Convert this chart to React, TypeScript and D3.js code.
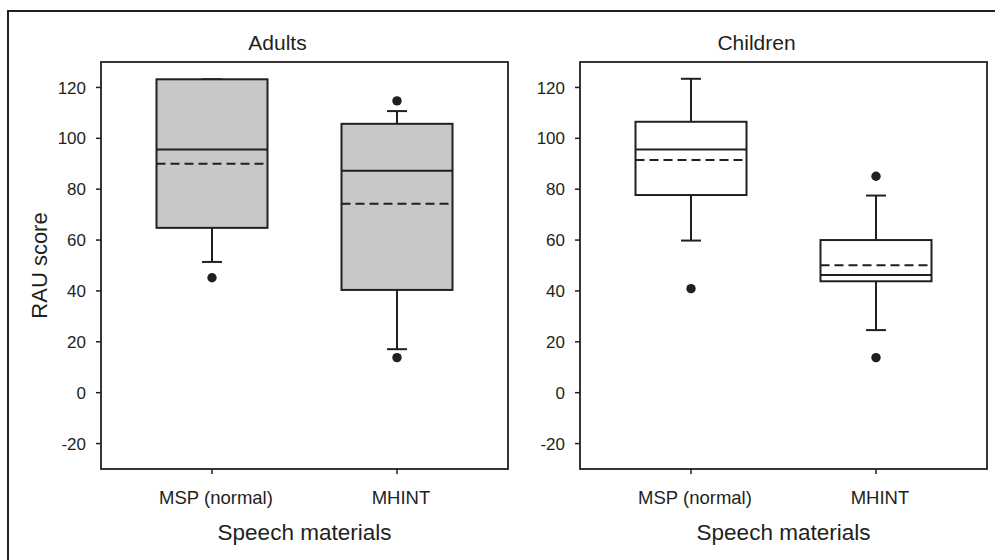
import React from "react";
import * as d3 from "d3";

// Panels and categories
const panelTitles = ["Adults", "Children"];
const categories = ["MSP (normal)", "MHINT"];
const yTicks = [-20, 0, 20, 40, 60, 80, 100, 120];

// Adults (RAU score) per category
const adultsWhiskerLow = [51.4, 17.1];
const adultsQ1 = [64.8, 40.4];
const adultsMedian = [95.6, 87.2];
const adultsMean = [90.0, 74.3];
const adultsQ3 = [123.2, 105.7];
const adultsWhiskerHigh = [123.2, 110.7];
const adultsOutliers = [[45.2], [13.8, 114.7]];

// Children (RAU score) per category
const childrenWhiskerLow = [59.8, 24.6];
const childrenQ1 = [77.7, 43.8];
const childrenMedian = [95.6, 46.3];
const childrenMean = [91.5, 50.1];
const childrenQ3 = [106.5, 60.0];
const childrenWhiskerHigh = [123.4, 77.5];
const childrenOutliers = [[40.9], [13.8, 85.1]];

type Box = {
  cat: string;
  lo: number;
  q1: number;
  med: number;
  mean: number;
  q3: number;
  hi: number;
  out: number[];
};

const build = (
  lo: number[], q1: number[], med: number[], mean: number[],
  q3: number[], hi: number[], out: number[][]
): Box[] =>
  categories.map((cat, i) => ({
    cat, lo: lo[i], q1: q1[i], med: med[i], mean: mean[i], q3: q3[i], hi: hi[i], out: out[i],
  }));

const panelData: Box[][] = [
  build(adultsWhiskerLow, adultsQ1, adultsMedian, adultsMean, adultsQ3, adultsWhiskerHigh, adultsOutliers),
  build(childrenWhiskerLow, childrenQ1, childrenMedian, childrenMean, childrenQ3, childrenWhiskerHigh, childrenOutliers),
];

const INK = "#231f20";
const FONT = "'Liberation Sans', Arial, Helvetica, sans-serif";

const plotTop = 62;
const plotBottom = 469;
const panelLefts = [101, 580];
const plotWidth = 407;
const fills = ["#c7c8ca", "#ffffff"];

const y = d3.scaleLinear().domain([-30, 130]).range([plotBottom, plotTop]);

function Panel({ idx }: { idx: number }) {
  const left = panelLefts[idx];
  const right = left + plotWidth;
  const x = d3.scalePoint<string>().domain(categories).range([left, right]).padding(0.6);
  const boxW = x.step() * 0.6;
  const capW = 20;
  const data = panelData[idx];
  const midX = (left + right) / 2;

  return (
    <g>
      {/* panel title */}
      <text x={midX - 27} y={50} textAnchor="middle" fontSize={21} fontFamily={FONT} fill={INK}>
        {panelTitles[idx]}
      </text>

      {/* y ticks */}
      {yTicks.map((t) => (
        <g key={t}>
          <line x1={left - 5} x2={left} y1={y(t)} y2={y(t)} stroke={INK} strokeWidth={1.5} />
          <text
            x={left - 15}
            y={y(t)}
            dy="0.36em"
            textAnchor="end"
            fontSize={17}
            fontFamily={FONT}
            fill={INK}
          >
            {t}
          </text>
        </g>
      ))}

      {/* x ticks and category labels */}
      {categories.map((c) => (
        <g key={c}>
          <line x1={x(c)} x2={x(c)} y1={plotBottom} y2={plotBottom + 5} stroke={INK} strokeWidth={1.5} />
          <text x={(x(c) as number) + 4} y={504} textAnchor="middle" fontSize={18.5} fontFamily={FONT} fill={INK}>
            {c}
          </text>
        </g>
      ))}

      {/* boxes */}
      {data.map((b) => {
        const cx = x(b.cat) as number;
        const x0 = cx - boxW / 2;
        const x1 = cx + boxW / 2;
        return (
          <g key={b.cat}>
            {/* whiskers */}
            <line x1={cx} x2={cx} y1={y(b.q3)} y2={y(b.hi)} stroke={INK} strokeWidth={2} />
            <line x1={cx} x2={cx} y1={y(b.q1)} y2={y(b.lo)} stroke={INK} strokeWidth={2} />
            <line x1={cx - capW / 2} x2={cx + capW / 2} y1={y(b.hi)} y2={y(b.hi)} stroke={INK} strokeWidth={2} />
            <line x1={cx - capW / 2} x2={cx + capW / 2} y1={y(b.lo)} y2={y(b.lo)} stroke={INK} strokeWidth={2} />
            {/* box */}
            <rect
              x={x0}
              y={y(b.q3)}
              width={x1 - x0}
              height={y(b.q1) - y(b.q3)}
              fill={fills[idx]}
              stroke={INK}
              strokeWidth={2}
            />
            {/* median */}
            <line x1={x0} x2={x1} y1={y(b.med)} y2={y(b.med)} stroke={INK} strokeWidth={2} />
            {/* mean */}
            <line
              x1={x0}
              x2={x1}
              y1={y(b.mean)}
              y2={y(b.mean)}
              stroke={INK}
              strokeWidth={2}
              strokeDasharray="9,5"
            />
            {/* outliers */}
            {b.out.map((o, k) => (
              <circle key={k} cx={cx} cy={y(o)} r={4.7} fill={INK} />
            ))}
          </g>
        );
      })}

      {/* plot frame */}
      <rect
        x={left}
        y={plotTop}
        width={plotWidth}
        height={plotBottom - plotTop}
        fill="none"
        stroke={INK}
        strokeWidth={1.8}
      />

      {/* x axis title */}
      <text x={midX} y={540} textAnchor="middle" fontSize={22.5} fontFamily={FONT} fill={INK}>
        Speech materials
      </text>
    </g>
  );
}

export default function App() {
  const midY = (plotTop + plotBottom) / 2;
  return (
    <svg
      width={995}
      height={560}
      style={{ position: "absolute", left: 0, top: 0, display: "block", background: "#ffffff" }}
    >
      <rect x={0} y={0} width={995} height={560} fill="#ffffff" />
      {/* outer frame (top and left edges) */}
      <line x1={8} x2={995} y1={11} y2={11} stroke={INK} strokeWidth={2} />
      <line x1={8} x2={8} y1={10} y2={560} stroke={INK} strokeWidth={2} />

      {/* y axis title */}
      <text
        transform={`translate(47,${midY}) rotate(-90)`}
        textAnchor="middle"
        fontSize={22}
        fontFamily={FONT}
        fill={INK}
      >
        RAU score
      </text>

      <Panel idx={0} />
      <Panel idx={1} />
    </svg>
  );
}
